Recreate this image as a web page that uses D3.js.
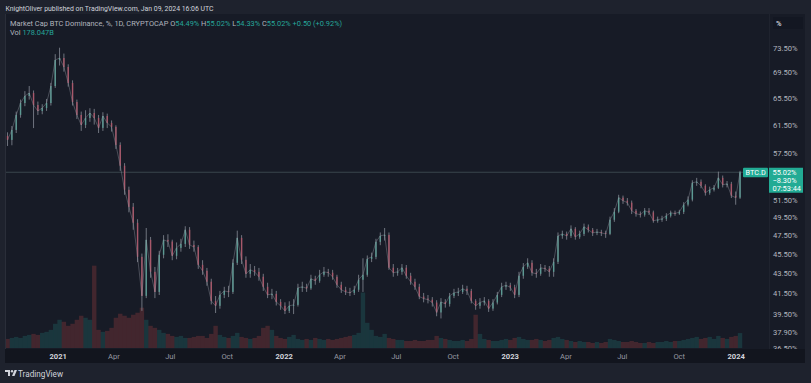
<!DOCTYPE html>
<html>
<head>
<meta charset="utf-8">
<title>BTC.D</title>
<script src="https://cdn.jsdelivr.net/npm/d3@7"></script>
<style>
  body { margin: 0; background: #1e222d; }
  svg { display: block; font-family: Roboto, "Noto Sans", sans-serif; }
</style>
</head>
<body>
<svg width="811" height="383" id="mainsvg"></svg>
<script>
// weekly candles (BTC.D, %), first week starts 2020-10-12
const startDate = new Date(2020, 9, 12);
const firstOpen = 59.90;
const closes = [
  59.34, 60.74, 62.90, 64.68, 65.75, 66.21, 64.38, 63.48, 63.93, 64.68,
  67.30, 71.52, 71.85, 70.36, 67.78, 64.83, 62.90, 61.45, 62.46, 63.19,
  62.46, 61.03, 62.75, 61.74, 61.17, 58.65, 55.86, 52.81, 50.75, 48.89,
  45.15, 41.22, 46.98, 43.60, 41.60, 45.37, 46.98, 46.80, 45.26, 46.11,
  46.54, 48.10, 46.43, 46.20, 44.32, 43.71, 42.60, 40.74, 40.27, 41.31,
  41.70, 41.60, 44.53, 47.20, 44.84, 43.40, 43.81, 43.60, 43.10, 42.10,
  41.31, 41.41, 40.64, 40.27, 39.80, 40.27, 40.36, 42.00, 42.10, 41.95,
  42.90, 42.70, 43.30, 43.60, 43.51, 43.10, 42.30, 41.81, 41.60, 41.51,
  41.81, 42.80, 43.30, 44.94, 45.15, 46.76, 47.42, 47.53, 44.02, 43.51,
  43.60, 44.02, 43.20, 42.60, 42.10, 41.15, 40.96, 40.85, 40.58, 39.65,
  40.64, 40.45, 41.22, 41.51, 41.60, 41.91, 41.70, 40.74, 40.27, 40.58,
  40.74, 40.01, 40.58, 41.31, 42.10, 42.25, 42.05, 41.31, 43.20, 44.11,
  44.53, 43.51, 43.40, 44.01, 43.92, 43.60, 44.63, 47.42, 47.64, 47.42,
  48.21, 47.31, 47.64, 48.44, 48.10, 47.75, 47.86, 47.75, 47.64, 49.24,
  50.17, 51.85, 51.48, 51.25, 50.29, 49.94, 49.82, 50.29, 50.10, 49.12,
  49.24, 49.35, 49.70, 50.05, 49.95, 50.15, 51.01, 51.61, 53.68, 53.81,
  53.31, 52.44, 52.81, 53.06, 54.31, 53.43, 53.55, 52.09, 51.85, 55.02
];
const highs = [
  60.4, 61.3, 63.4, 65.2, 66.5, 67.3, 66.6, 64.9, 64.5, 65.3,
  67.8, 72.5, 73.6, 72.6, 70.8, 68.2, 65.2, 63.4, 63.6, 63.9,
  63.8, 62.9, 63.3, 63.1, 62.1, 61.4, 59.0, 56.2, 53.2, 51.2,
  49.3, 45.5, 48.3, 47.3, 44.1, 45.8, 47.5, 47.6, 47.0, 46.7,
  47.1, 48.5, 48.4, 46.9, 46.4, 44.8, 44.0, 42.9, 41.2, 41.7,
  42.1, 42.2, 44.9, 48.0, 47.5, 45.2, 44.4, 44.2, 44.0, 43.4,
  42.5, 41.9, 41.7, 40.9, 40.6, 40.7, 40.9, 42.4, 42.6, 42.4,
  43.3, 43.2, 43.8, 44.1, 43.9, 43.8, 43.3, 42.6, 42.1, 42.0,
  42.2, 43.3, 45.0, 45.3, 45.6, 47.1, 47.8, 48.3, 47.8, 44.4,
  44.0, 44.4, 44.3, 43.5, 42.9, 42.4, 41.5, 41.3, 41.1, 40.8,
  41.0, 40.9, 41.5, 41.9, 42.0, 42.3, 42.2, 41.9, 40.9, 41.0,
  41.1, 40.9, 40.9, 41.6, 42.5, 42.6, 42.5, 42.3, 43.6, 44.5,
  45.0, 44.8, 43.9, 44.4, 44.3, 44.2, 45.0, 47.8, 48.0, 47.9,
  48.6, 48.4, 48.0, 48.8, 48.7, 48.3, 48.2, 48.1, 48.0, 49.6,
  50.6, 52.2, 52.1, 51.8, 51.5, 50.5, 50.2, 50.6, 50.6, 50.3,
  49.6, 49.7, 50.0, 50.3, 50.3, 50.4, 51.3, 52.0, 54.0, 54.3,
  54.1, 53.5, 53.2, 53.4, 55.1, 54.6, 53.9, 53.8, 52.6, 55.2
];
const lows = [
  58.5, 58.6, 60.3, 62.5, 64.2, 65.2, 61.0, 62.9, 63.0, 63.5,
  64.3, 67.0, 70.6, 69.6, 67.2, 64.3, 62.3, 60.6, 61.0, 61.9,
  61.5, 60.3, 60.6, 61.0, 60.5, 58.1, 55.2, 52.2, 50.1, 48.1,
  44.6, 39.8, 41.0, 43.0, 41.0, 41.3, 45.0, 46.2, 44.8, 44.9,
  45.7, 46.2, 46.0, 45.7, 43.9, 43.3, 42.2, 40.4, 39.6, 40.0,
  41.0, 41.1, 41.4, 44.3, 44.4, 43.0, 43.0, 43.2, 42.7, 41.7,
  41.0, 40.9, 40.3, 39.9, 39.5, 39.6, 39.5, 40.2, 41.6, 41.6,
  41.8, 42.3, 42.5, 43.1, 43.1, 42.8, 42.0, 41.5, 41.3, 41.2,
  41.3, 41.6, 41.6, 43.1, 44.6, 44.9, 46.4, 46.9, 43.8, 43.1,
  43.2, 43.3, 42.9, 42.3, 41.8, 40.9, 40.6, 40.5, 40.2, 39.3,
  39.1, 40.1, 40.2, 41.0, 41.2, 41.4, 41.3, 40.5, 39.9, 40.0,
  40.3, 39.7, 39.8, 40.4, 41.1, 41.8, 41.7, 41.0, 41.1, 42.9,
  43.9, 43.2, 43.0, 43.2, 43.6, 43.1, 43.1, 44.4, 47.1, 47.0,
  47.2, 47.0, 47.1, 47.4, 47.8, 47.4, 47.5, 47.4, 47.2, 47.5,
  49.0, 50.0, 51.1, 50.9, 49.9, 49.6, 49.5, 49.6, 49.8, 48.9,
  48.9, 49.0, 49.1, 49.5, 49.7, 49.8, 49.9, 50.8, 51.4, 53.3,
  53.0, 52.1, 52.2, 52.6, 52.9, 53.1, 53.1, 51.8, 51.0, 51.7
];
// volume, billions
const volumes = [
  108, 120, 132, 120, 144, 156, 168, 156, 180, 192,
  216, 288, 336, 312, 264, 288, 336, 384, 360, 336,
  980, 216, 192, 204, 240, 360, 408, 384, 360, 396,
  420, 480, 336, 264, 240, 216, 180, 168, 144, 132,
  144, 120, 120, 132, 144, 144, 120, 168, 264, 156,
  132, 120, 144, 180, 132, 120, 108, 120, 144, 240,
  264, 216, 144, 120, 108, 132, 156, 108, 96, 108,
  96, 120, 108, 96, 108, 96, 108, 120, 132, 144,
  156, 180, 660, 300, 216, 144, 132, 168, 120, 108,
  96, 96, 84, 84, 96, 84, 84, 96, 96, 144,
  120, 108, 96, 84, 84, 96, 84, 108, 396, 168,
  108, 96, 84, 84, 96, 108, 96, 120, 132, 108,
  96, 96, 108, 96, 84, 96, 120, 132, 108, 96,
  84, 72, 84, 72, 72, 60, 72, 60, 72, 108,
  96, 84, 72, 72, 84, 72, 60, 60, 72, 60,
  72, 72, 84, 72, 84, 84, 96, 108, 120, 132,
  108, 120, 132, 108, 144, 120, 108, 132, 144, 178
];
const yTicks = [73.5, 69.5, 65.5, 61.5, 57.5, 51.5, 49.5, 47.5, 45.5, 43.5, 41.5, 39.5, 37.9, 36.5];
const xTickDates = ['2021-01-01', '2021-04-01', '2021-07-01', '2021-10-01', '2022-01-01', '2022-04-01',
  '2022-07-01', '2022-10-01', '2023-01-01', '2023-04-01', '2023-07-01', '2023-10-01', '2024-01-01'];
const lastChange = '\u22128.30%';
const countdown = '07:53:44';

const svg = d3.select('#mainsvg');
const width = +svg.attr('width');
const height = +svg.attr('height');
const plot = { left: 5, right: 768, top: 14, bottom: 348 };
const upColor = '#5c9a93', downColor = '#a8586a', wickColor = '#868b96';

const data = closes.map((c, i) => ({
  date: d3.timeDay.offset(startDate, 7 * i),
  open: i ? closes[i - 1] : firstOpen,
  high: highs[i], low: lows[i], close: c, vol: volumes[i]
}));

const xScale = d3.scaleTime()
  .domain([new Date(2021, 0, 1), new Date(2024, 0, 1)])
  .range([57.7, 735.7]);
const yScale = d3.scaleLog().domain([36.5, 73.5]).range([347.9, 48.3]);
const vScale = d3.scaleLinear().domain([0, 1000]).range([plot.bottom, 264]);

// backgrounds
svg.append('rect').attr('width', width).attr('height', height).attr('fill', '#1e222d');
svg.append('rect').attr('x', 5).attr('y', 14).attr('width', 800).attr('height', 349).attr('fill', '#171b26');
svg.append('line').attr('x1', 5.5).attr('x2', 5.5).attr('y1', 14).attr('y2', 349)
  .attr('stroke', '#2a2e39');
svg.append('line').attr('x1', 769.5).attr('x2', 769.5).attr('y1', 14).attr('y2', 349)
  .attr('stroke', '#1f232e');

svg.append('clipPath').attr('id', 'clip').append('rect')
  .attr('x', plot.left + 1).attr('y', plot.top)
  .attr('width', plot.right - plot.left - 1).attr('height', plot.bottom - plot.top);
const mainGroup = svg.append('g').attr('clip-path', 'url(#clip)');

// volume
mainGroup.selectAll('rect.vol').data(data).join('rect')
  .attr('class', 'vol')
  .attr('x', d => xScale(d.date) - 2.2).attr('width', 4.4)
  .attr('y', d => vScale(d.vol)).attr('height', d => plot.bottom - vScale(d.vol))
  .attr('fill', d => d.close >= d.open ? '#26a69a' : '#ef5350')
  .attr('opacity', 0.2);

// last price line
const lastY = yScale(closes[closes.length - 1]);
mainGroup.append('line').attr('x1', plot.left).attr('x2', plot.right)
  .attr('y1', lastY).attr('y2', lastY)
  .attr('stroke', '#5d6f73').attr('stroke-opacity', 0.5).attr('stroke-width', 1);

// candles
const candle = mainGroup.selectAll('g.candle').data(data).join('g').attr('class', 'candle');
candle.append('line')
  .attr('x1', d => xScale(d.date)).attr('x2', d => xScale(d.date))
  .attr('y1', d => yScale(d.high)).attr('y2', d => yScale(d.low))
  .attr('stroke', wickColor).attr('stroke-width', 0.8);
candle.append('rect')
  .attr('x', d => xScale(d.date) - 0.7).attr('width', 1.4)
  .attr('y', d => yScale(Math.max(d.open, d.close)))
  .attr('height', d => Math.max(1, Math.abs(yScale(d.open) - yScale(d.close))))
  .attr('fill', d => d.close >= d.open ? upColor : downColor);
// thin connecting trace, the daily candles read as a jagged line at this scale
mainGroup.append('path').datum(data)
  .attr('d', d3.line().x(d => xScale(d.date)).y(d => yScale(d.close)))
  .attr('fill', 'none').attr('stroke', '#9a9ea8').attr('stroke-width', 0.7).attr('stroke-opacity', 0.55);

// price axis
const yAxisGroup = svg.append('g').attr('transform', 'translate(770,0)')
  .call(d3.axisRight(yScale).tickValues(yTicks).tickSize(0).tickPadding(3)
    .tickFormat(d => d.toFixed(2) + '%'));
yAxisGroup.select('.domain').remove();
yAxisGroup.selectAll('text').attr('fill', '#b2b5be').attr('font-size', 7.6)
  .attr('font-family', 'Roboto, sans-serif');

// "%" box
svg.append('rect').attr('x', 773).attr('y', 17).attr('width', 30).attr('height', 12)
  .attr('fill', '#131722').attr('rx', 1);
svg.append('text').attr('x', 776).attr('y', 25.8).text('%')
  .attr('fill', '#d1d4dc').attr('font-size', 7.5).attr('font-weight', 600);

// last price labels
const tag = '#22ab94';
svg.append('rect').attr('x', 743).attr('y', lastY - 4.5).attr('width', 25).attr('height', 9.5)
  .attr('fill', tag).attr('rx', 1);
svg.append('text').attr('x', 745.5).attr('y', lastY + 3).text('BTC.D')
  .attr('fill', '#ffffff').attr('font-size', 7.3);
svg.append('rect').attr('x', 769).attr('y', lastY - 4.5).attr('width', 34).attr('height', 25)
  .attr('fill', tag);
[closes[closes.length - 1].toFixed(2) + '%', lastChange, countdown].forEach((t, i) => {
  svg.append('text').attr('x', 772.5).attr('y', lastY + 2.8 + i * 8).text(t)
    .attr('fill', '#ffffff').attr('font-size', 7.4);
});

// time axis strip
svg.append('rect').attr('x', 5).attr('y', 349).attr('width', 800).attr('height', 14).attr('fill', '#12151e');
const tickDates = xTickDates.map(d => d3.timeParse('%Y-%m-%d')(d));
const xAxisGroup = svg.append('g').attr('transform', 'translate(0,349)')
  .call(d3.axisBottom(xScale).tickValues(tickDates).tickSize(0).tickPadding(5)
    .tickFormat(d => d.getMonth() === 0 ? d3.timeFormat('%Y')(d) : d3.timeFormat('%b')(d)));
xAxisGroup.select('.domain').remove();
xAxisGroup.selectAll('text')
  .attr('font-size', 7.6).attr('font-family', 'Roboto, sans-serif')
  .attr('fill', d => d.getMonth() === 0 ? '#d1d4dc' : '#9598a1')
  .attr('font-weight', d => d.getMonth() === 0 ? 700 : 400);

// header
svg.append('text').attr('x', 5.5).attr('y', 11).attr('font-size', 7.4).attr('fill', '#d1d4dc')
  .attr('textLength', 208).attr('lengthAdjust', 'spacingAndGlyphs')
  .text('KnightOliver published on TradingView.com, Jan 09, 2024 16:06 UTC');
const legend = svg.append('text').attr('x', 10).attr('y', 25.5).attr('font-size', 7.4).attr('fill', '#b2b5be');
legend.append('tspan').text('Market Cap BTC Dominance, %, 1D, CRYPTOCAP ');
[['O', '54.49%'], ['H', '55.02%'], ['L', '54.33%'], ['C', '55.02%']].forEach(([k, v]) => {
  legend.append('tspan').text(' ' + k);
  legend.append('tspan').attr('fill', '#26a69a').text(v);
});
legend.append('tspan').attr('fill', '#26a69a').text(' +0.50 (+0.92%)');
const volText = svg.append('text').attr('x', 10).attr('y', 34.5).attr('font-size', 7.4).attr('fill', '#b2b5be');
volText.append('tspan').text('Vol ');
volText.append('tspan').attr('fill', '#26a69a').text(' 178.047B');

// footer logo
const logo = svg.append('g').attr('transform', 'translate(5,370)').attr('fill', '#d1d4dc');
logo.append('path').attr('d', 'M0 0H5V6H3V2H0Z');
logo.append('circle').attr('cx', 7).attr('cy', 1.2).attr('r', 1.2);
logo.append('path').attr('d', 'M9.5 0H12L9.5 6H7Z');
svg.append('text').attr('x', 18).attr('y', 376.5).attr('font-size', 8.2).attr('fill', '#d1d4dc')
  .text('TradingView');
</script>
</body>
</html>
